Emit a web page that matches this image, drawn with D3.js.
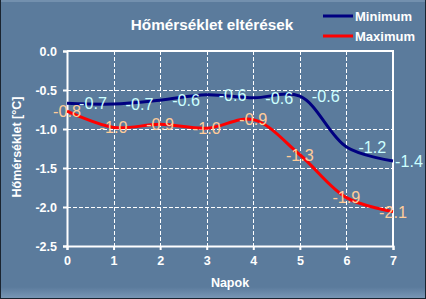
<!DOCTYPE html>
<html>
<head>
<meta charset="utf-8">
<script src="https://cdn.jsdelivr.net/npm/d3@7"></script>
<style>
  body { margin: 0; background: #5b7b9c; }
  svg { display: block; }
  text { font-family: "Liberation Sans", Arial, sans-serif; }
</style>
</head>
<body>
<svg id="chart" width="426" height="299"></svg>
<script>
const days = [0, 1, 2, 3, 4, 5, 6, 7];
const minValues = [-0.67, -0.68, -0.63, -0.56, -0.60, -0.58, -1.23, -1.41];
const maxValues = [-0.77, -0.98, -0.94, -0.99, -0.88, -1.33, -1.88, -2.06];
const yTicks = [0, -0.5, -1.0, -1.5, -2.0, -2.5];
const seriesNames = ['Minimum', 'Maximum'];

const W = 426, H = 299;
const margin = { left: 67, right: 33, top: 51, bottom: 53 };
const svg = d3.select('#chart');

// outer frame
const defs = svg.append('defs');
const grad = defs.append('linearGradient').attr('id', 'bottomFade')
  .attr('x1', 0).attr('y1', 0).attr('x2', 0).attr('y2', 1);
grad.append('stop').attr('offset', 0).attr('stop-color', '#5b7b9c');
grad.append('stop').attr('offset', 1).attr('stop-color', '#7896b5');

svg.append('rect').attr('width', W).attr('height', H).attr('fill', '#5b7b9c');
svg.append('rect').attr('x', 0).attr('y', H - 12).attr('width', W).attr('height', 11).attr('fill', 'url(#bottomFade)');
svg.append('rect').attr('x', 0).attr('y', 0).attr('width', W).attr('height', 2).attr('fill', '#7390ae');
svg.append('rect').attr('x', 0).attr('y', 0).attr('width', 1).attr('height', H).attr('fill', '#1a2430');
svg.append('rect').attr('x', W - 1).attr('y', 0).attr('width', 1).attr('height', H).attr('fill', '#1a2430');
svg.append('rect').attr('x', 0).attr('y', H - 1).attr('width', W).attr('height', 1).attr('fill', '#1a2430');

const x = d3.scaleLinear().domain([0, 7]).range([margin.left, W - margin.right]);
const y = d3.scaleLinear().domain([-2.5, 0]).range([H - margin.bottom, margin.top]);

// grid
const grid = svg.append('g').attr('stroke', '#fff').attr('stroke-width', 1).attr('stroke-dasharray', '4,2');
grid.selectAll('line.v').data(days.slice(1, -1)).join('line')
  .attr('x1', d => Math.round(x(d)) + 0.5).attr('x2', d => Math.round(x(d)) + 0.5)
  .attr('y1', y(0)).attr('y2', y(-2.5));
grid.selectAll('line.h').data(yTicks.slice(1, -1)).join('line')
  .attr('y1', d => Math.round(y(d)) + 0.5).attr('y2', d => Math.round(y(d)) + 0.5)
  .attr('x1', x(0)).attr('x2', x(7));

// plot border top/right
svg.append('path')
  .attr('d', `M${x(0)},${y(0)}H${x(7)}V${y(-2.5)}`)
  .attr('fill', 'none').attr('stroke', '#fff').attr('stroke-width', 2);

// axes
const xAxis = svg.append('g').attr('transform', `translate(0,${y(-2.5)})`)
  .call(d3.axisBottom(x).tickValues(days).tickFormat(d3.format('d')).tickSize(4).tickPadding(6));
const yAxis = svg.append('g').attr('transform', `translate(${x(0)},0)`)
  .call(d3.axisLeft(y).tickValues(yTicks).tickFormat(d3.format('.1f')).tickSize(4).tickPadding(6));
[xAxis, yAxis].forEach(a => {
  a.select('.domain').attr('stroke', '#fff').attr('stroke-width', 2);
  a.selectAll('.tick line').attr('stroke', '#fff').attr('stroke-width', 2);
  a.selectAll('.tick text').attr('fill', '#fff').attr('font-size', 12.5).attr('font-weight', 'bold')
    .attr('font-family', '"Liberation Sans", Arial, sans-serif');
});
yAxis.selectAll('.tick text').text(d => d3.format('.1f')(d).replace('−', '-'));

// titles
svg.append('text').attr('x', 212).attr('y', 30).attr('text-anchor', 'middle')
  .attr('fill', '#fff').attr('font-size', 15.3).attr('font-weight', 'bold')
  .text('Hőmérséklet eltérések');
svg.append('text').attr('x', (x(0) + x(7)) / 2).attr('y', 287).attr('text-anchor', 'middle')
  .attr('fill', '#fff').attr('font-size', 12.5).attr('font-weight', 'bold').text('Napok');
svg.append('text').attr('transform', 'translate(21,147) rotate(-90)').attr('text-anchor', 'middle')
  .attr('fill', '#fff').attr('font-size', 12.5).attr('font-weight', 'bold').text('Hőmérséklet [°C]');

// lines
const line = d3.line().x((d, i) => x(days[i])).y(d => y(d)).curve(d3.curveCatmullRom.alpha(0.5));
const series = [
  { name: seriesNames[0], values: minValues, color: '#000080', label: '#ccffff' },
  { name: seriesNames[1], values: maxValues, color: '#ff0000', label: '#ffcc99' }
];
series.forEach(s => {
  svg.append('path').datum(s.values).attr('d', line)
    .attr('fill', 'none').attr('stroke', s.color).attr('stroke-width', 3);
});

// data labels
const fmt = v => d3.format('.1f')(v).replace('−', '-');
svg.append('g').selectAll('text').data(minValues).join('text')
  .attr('x', (d, i) => Math.min(x(days[i]) + 12, 395))
  .attr('y', d => y(d)).attr('dy', '0.36em')
  .attr('fill', series[0].label).attr('font-size', 16.2).text(fmt);
svg.append('g').selectAll('text').data(maxValues).join('text')
  .attr('x', (d, i) => x(days[i]))
  .attr('y', d => y(d)).attr('dy', '0.36em').attr('text-anchor', 'middle')
  .attr('fill', series[1].label).attr('font-size', 16.2).text(fmt);

// legend
const legend = svg.append('g');
series.forEach((s, i) => {
  const ly = 16 + i * 20;
  legend.append('line').attr('x1', 323).attr('x2', 353).attr('y1', ly).attr('y2', ly)
    .attr('stroke', s.color).attr('stroke-width', 3);
  legend.append('text').attr('x', 355).attr('y', ly).attr('dy', '0.36em')
    .attr('fill', '#fff').attr('font-size', 13).attr('font-weight', 'bold').text(s.name);
});
</script>
</body>
</html>
